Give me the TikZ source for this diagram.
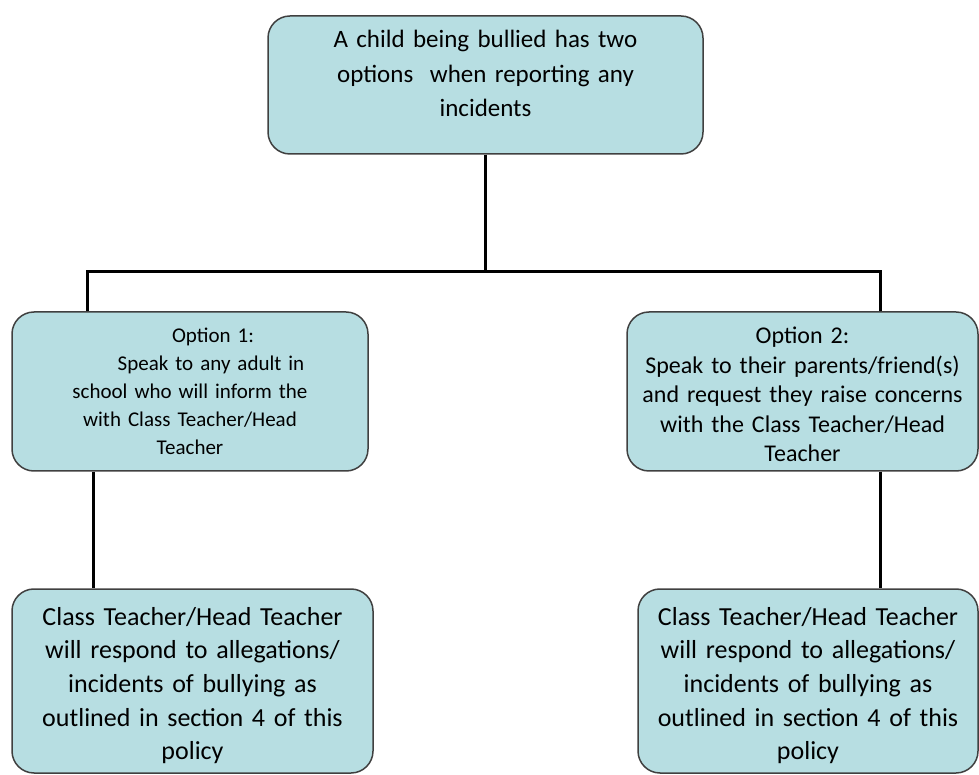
\documentclass[tikz,border=0pt]{standalone}
\usepackage{fontspec}
\setmainfont{Carlito}
\definecolor{boxfill}{RGB}{183,222,226}
\definecolor{boxline}{RGB}{64,64,64}
\tikzset{
  flowbox/.style={draw=boxline, fill=boxfill, line width=1.5pt,
    rounded corners=22pt, align=center, inner sep=0pt, text height=20pt},
  headbox/.style={flowbox, minimum width=435pt, minimum height=138pt,
    text width=400pt, text depth=94pt, font=\fontsize{25}{34.5}\selectfont},
  optionbox/.style={flowbox, minimum height=159pt, text width=330pt},
  actionbox/.style={flowbox, minimum height=184pt, text width=330pt,
    text depth=132pt, font=\fontsize{26}{33.7}\selectfont},
  link/.style={line width=3pt, black}
}
\begin{document}
\begin{tikzpicture}[x=1pt, y=1pt]

    % --- Frame ---
    \useasboundingbox (0,0) rectangle (979,774);

    % --- Boxes ---
    \node[headbox] (top) at (485.5,689)
        {A child being bullied has two\\ options\ \ when reporting any\\ incidents};
    \node[optionbox, minimum width=356pt, text depth=117pt,
          font=\fontsize{21}{28}\selectfont] (opt1) at (190,382.5)
        {\hspace*{46pt}Option 1:\\ \hspace*{42pt}Speak to any adult in\\ school who will inform the\\ with Class Teacher/Head\\ Teacher};
    \node[optionbox, minimum width=351pt, text depth=115pt,
          font=\fontsize{24}{29.5}\selectfont] (opt2) at (802.5,382.5)
        {Option 2:\\ Speak to their parents/friend(s)\\ and request they raise concerns\\ with the Class Teacher/Head\\ Teacher};
    \node[actionbox, minimum width=361pt] (res1) at (192.5,93)
        {Class Teacher/Head Teacher\\ will respond to allegations/\\ incidents of bullying as\\ outlined in section 4 of this\\ policy};
    \node[actionbox, minimum width=340pt] (res2) at (808,93)
        {Class Teacher/Head Teacher\\ will respond to allegations/\\ incidents of bullying as\\ outlined in section 4 of this\\ policy};

    % --- Branch points ---
    \coordinate (lturn) at (87,502);
    \coordinate (rturn) at (880,502);
    \coordinate (split) at (top.south |- lturn);
    \coordinate (ldrop) at (93,0);
    \coordinate (rdrop) at (880,0);

    % --- Connectors ---
    \draw[link] (top.south) -- (split);
    \draw[link] (lturn |- opt1.north) -- (lturn) -- (rturn) -- (rturn |- opt2.north);
    \draw[link] (ldrop |- opt1.south) -- (ldrop |- res1.north);
    \draw[link] (rdrop |- opt2.south) -- (rdrop |- res2.north);

\end{tikzpicture}
\end{document}
